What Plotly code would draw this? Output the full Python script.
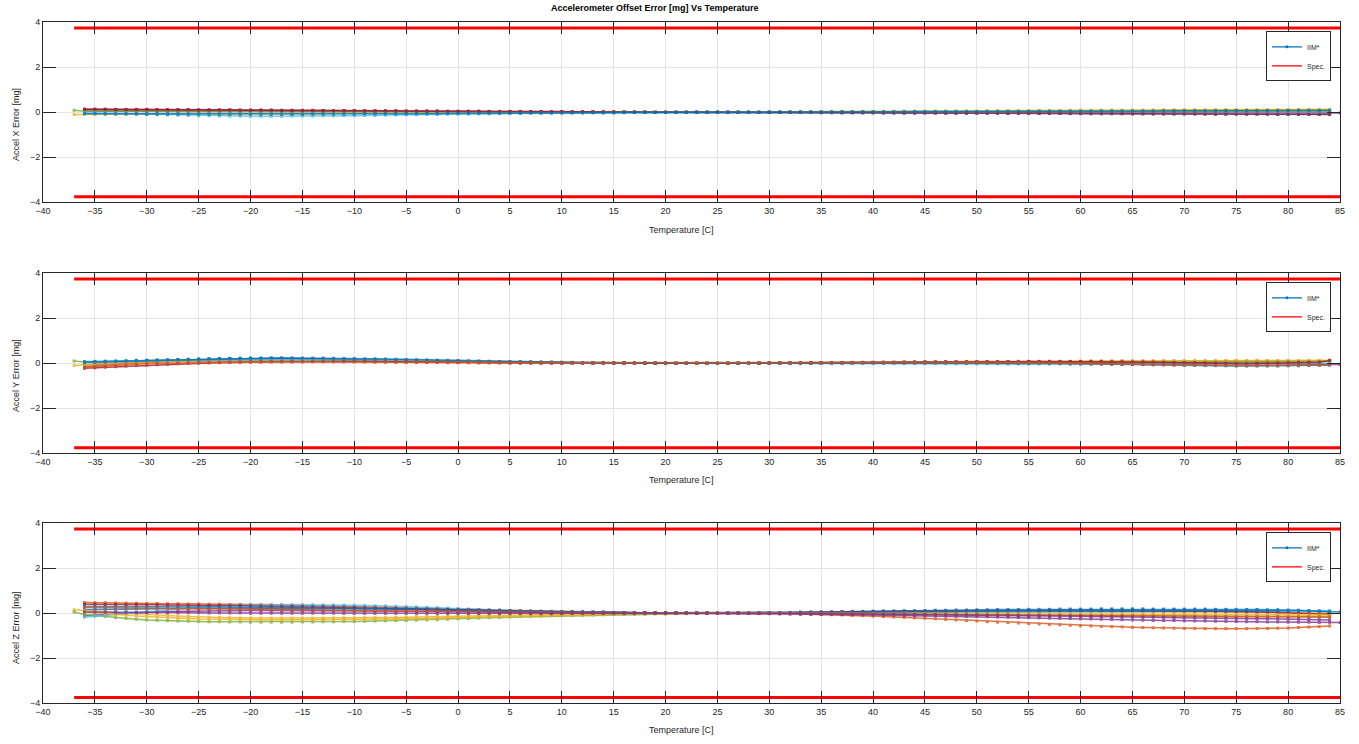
import plotly.graph_objects as go

# ---------------- data ----------------
TEMPS = [-36, -35, -34, -33, -32, -31, -30, -29, -28, -27,
         -26, -25, -24, -23, -22, -21, -20, -19, -18, -17,
         -16, -15, -14, -13, -12, -11, -10, -9, -8, -7,
         -6, -5, -4, -3, -2, -1, 0, 1, 2, 3,
         4, 5, 6, 7, 8, 9, 10, 11, 12, 13,
         14, 15, 16, 17, 18, 19, 20, 21, 22, 23,
         24, 25, 26, 27, 28, 29, 30, 31, 32, 33,
         34, 35, 36, 37, 38, 39, 40, 41, 42, 43,
         44, 45, 46, 47, 48, 49, 50, 51, 52, 53,
         54, 55, 56, 57, 58, 59, 60, 61, 62, 63,
         64, 65, 66, 67, 68, 69, 70, 71, 72, 73,
         74, 75, 76, 77, 78, 79, 80, 81, 82, 83,
         84]
TEMPS_FROM_M37 = [-37] + TEMPS
TEMPS_TO_85 = TEMPS + [85]

X_TICKS = [-40, -35, -30, -25, -20, -15, -10, -5, 0, 5, 10, 15, 20, 25,
           30, 35, 40, 45, 50, 55, 60, 65, 70, 75, 80, 85]
Y_TICKS = [-4, -2, 0, 2, 4]
SPEC_LIMIT = 3.75
SPEC_TEMPS = [-37, 85]

# ---- Accel X ----
X_A = [.05,.05,.05,.05,.05,.05,.04,.04,.04,.04, .04,.04,.04,.04,.04,.04,.04,.04,.03,.03,
       .03,.03,.03,.03,.03,.03,.03,.03,.03,.03, .02,.02,.02,.02,.02,.02,.02,.02,.02,.02,
       .02,.02,.01,.01,.01,.01,.01,.01,.01,.01, .01,.01,.01,.01,0,0,0,0,0,0,
       0,0,0,0,0,0,0,-.01,-.01,-.01, -.01,-.01,-.01,-.02,-.02,-.02,-.02,-.02,-.02,-.03,
       -.03,-.03,-.03,-.03,-.03,-.04,-.04,-.04,-.04,-.04, -.04,-.05,-.05,-.05,-.05,-.05,-.05,-.06,-.06,-.06,
       -.06,-.06,-.06,-.07,-.07,-.07,-.07,-.07,-.07,-.08, -.08,-.08,-.08,-.08,-.08,-.09,-.09,-.09,-.09,-.09,
       -.1]
X_B = [.10,.10,.10,.10,.09,.09,.09,.09,.09,.08, .08,.08,.08,.08,.07,.07,.07,.07,.07,.06,
       .06,.06,.06,.06,.05,.05,.05,.05,.05,.04, .04,.04,.04,.04,.03,.03,.03,.03,.03,.02,
       .02,.02,.02,.02,.01,.01,.01,.01,.01,.01, .01,.01,0,0,0,0,0,0,0,0,
       0,0,0,0,0,0,.01,.01,.01,.01, .01,.01,.01,.01,.02,.02,.02,.02,.02,.02,
       .02,.03,.03,.03,.03,.03,.03,.03,.04,.04, .04,.04,.04,.04,.04,.05,.05,.05,.05,.05,
       .05,.05,.05,.06,.06,.06,.06,.06,.06,.06, .06,.07,.07,.07,.07,.07,.07,.07,.07,.07,
       .07]
X_C = [-.10,
       -.09,-.09,-.09,-.09,-.09,-.09,-.09,-.08,-.08,-.08, -.08,-.08,-.08,-.08,-.07,-.07,-.07,-.07,-.07,-.06,
       -.06,-.06,-.06,-.06,-.05,-.05,-.05,-.05,-.05,-.04, -.04,-.04,-.04,-.04,-.03,-.03,-.03,-.03,-.03,-.02,
       -.02,-.02,-.02,-.02,-.02,-.01,-.01,-.01,-.01,-.01, -.01,-.01,-.01,0,0,0,0,0,0,0,
       0,0,0,.01,.01,.01,.01,.02,.02,.02, .02,.03,.03,.03,.03,.04,.04,.04,.04,.05,
       .05,.05,.05,.06,.06,.06,.06,.07,.07,.07, .07,.08,.08,.08,.08,.09,.09,.09,.09,.10,
       .10,.10,.10,.10,.11,.11,.11,.11,.11,.12, .12,.12,.12,.12,.12,.12,.13,.13,.13,.13,
       .13]
X_D = [.14,.14,.14,.13,.13,.13,.13,.12,.12,.12, .12,.11,.11,.11,.11,.10,.10,.10,.10,.09,
       .09,.09,.09,.08,.08,.08,.08,.07,.07,.07, .07,.06,.06,.06,.06,.05,.05,.05,.05,.04,
       .04,.04,.04,.03,.03,.03,.03,.02,.02,.02, .02,.01,.01,.01,.01,0,0,0,0,0,
       0,0,0,0,0,0,0,0,0,0, 0,0,0,0,0,0,-.01,-.01,-.01,-.01,
       -.01,-.01,-.01,-.01,-.01,-.01,-.01,-.01,-.01,-.01, -.01,-.01,-.01,-.01,-.02,-.02,-.02,-.02,-.02,-.02,
       -.02,-.02,-.02,-.02,-.02,-.02,-.02,-.02,-.02,-.02, -.02,-.02,-.02,-.02,-.02,-.02,-.02,-.02,-.02,-.02,
       -.02, -.03]
X_E = [.09,
       .05,.05,.05,.05,.05,.05,.05,.05,.05,.04, .04,.04,.04,.04,.04,.04,.04,.04,.04,.04,
       .03,.03,.03,.03,.03,.03,.03,.03,.03,.03, .02,.02,.02,.02,.02,.02,.02,.02,.02,.02,
       .01,.01,.01,.01,.01,.01,.01,.01,.01,.01, .01,.01,0,0,0,0,0,0,0,0,
       0,0,0,0,0,0,0,0,.01,.01, .01,.01,.01,.01,.01,.01,.01,.01,.02,.02,
       .02,.02,.02,.02,.02,.02,.02,.02,.03,.03, .03,.03,.03,.03,.03,.03,.03,.03,.04,.04,
       .04,.04,.04,.04,.04,.04,.04,.04,.04,.05, .05,.05,.05,.05,.05,.05,.05,.05,.05,.05,
       .05]
X_F = [-.02,-.03,-.05,-.06,-.07,-.08,-.10,-.11,-.12,-.13, -.14,-.16,-.16,-.17,-.17,-.18,-.18,-.18,-.18,-.18,
       -.17,-.17,-.17,-.16,-.16,-.15,-.15,-.14,-.14,-.13, -.12,-.11,-.11,-.10,-.10,-.09,-.08,-.08,-.07,-.07,
       -.06,-.05,-.05,-.04,-.04,-.04,-.03,-.03,-.03,-.02, -.02,-.02,-.02,-.01,-.01,-.01,-.01,-.01,0,0,
       0,0,0,0,0,0,0,0,-.01,-.01, -.01,-.01,-.01,-.01,-.01,-.02,-.02,-.02,-.02,-.02,
       -.02,-.02,-.03,-.03,-.03,-.03,-.03,-.03,-.03,-.03, -.04,-.04,-.04,-.04,-.04,-.04,-.04,-.04,-.04,-.05,
       -.05,-.05,-.05,-.05,-.05,-.05,-.05,-.06,-.06,-.06, -.06,-.06,-.06,-.06,-.06,-.07,-.07,-.07,-.07,-.07,
       -.07]
X_G = [.13,.13,.13,.12,.12,.12,.12,.11,.11,.11, .11,.10,.10,.10,.10,.09,.09,.09,.09,.08,
       .08,.08,.08,.07,.07,.07,.07,.06,.06,.06, .06,.05,.05,.05,.05,.04,.04,.04,.04,.03,
       .03,.03,.03,.03,.02,.02,.02,.02,.02,.01, .01,.01,.01,.01,.01,0,0,0,0,0,
       0,0,0,0,0,-.01,-.01,-.01,-.01,-.01, -.01,-.02,-.02,-.02,-.02,-.02,-.02,-.03,-.03,-.03,
       -.03,-.03,-.03,-.04,-.04,-.04,-.04,-.04,-.04,-.05, -.05,-.05,-.05,-.05,-.05,-.06,-.06,-.06,-.06,-.06,
       -.06,-.07,-.07,-.07,-.07,-.07,-.07,-.07,-.08,-.08, -.08,-.08,-.08,-.08,-.08,-.09,-.09,-.09,-.09,-.09,
       -.09]
X_H = [-.06,-.06,-.07,-.07,-.07,-.07,-.08,-.08,-.08,-.08, -.08,-.08,-.09,-.09,-.09,-.09,-.09,-.09,-.09,-.09,
       -.09,-.09,-.08,-.08,-.08,-.08,-.08,-.07,-.07,-.07, -.07,-.07,-.06,-.06,-.06,-.05,-.05,-.05,-.05,-.04,
       -.04,-.04,-.04,-.03,-.03,-.03,-.03,-.02,-.02,-.02, -.02,-.02,-.01,-.01,-.01,-.01,-.01,0,0,0,
       0,0,0,0,0,0,.01,.01,.01,.01, .01,.01,.01,.02,.02,.02,.02,.02,.02,.02,
       .03,.03,.03,.03,.03,.03,.03,.04,.04,.04, .04,.04,.05,.05,.05,.05,.05,.05,.06,.06,
       .06,.06,.06,.06,.07,.07,.07,.07,.07,.07, .08,.08,.08,.08,.08,.08,.08,.09,.09,.09,
       .09]

# ---- Accel Y ----
Y_A = [-.08,-.05,-.02,.01,.04,.07,.10,.12,.13,.15, .16,.18,.19,.20,.21,.22,.22,.22,.22,.22,
       .21,.21,.20,.20,.19,.17,.16,.15,.14,.13, .12,.11,.10,.09,.08,.07,.06,.05,.05,.04,
       .03,.03,.02,.02,.02,.01,.01,.01,.01,.01, 0,0,0,0,0,0,0,0,0,0,
       0,0,0,0,0,0,0,.01,.01,.01, .02,.02,.02,.03,.03,.03,.04,.04,.04,.04,
       .05,.05,.05,.05,.05,.06,.06,.06,.06,.06, .06,.06,.06,.06,.06,.06,.06,.06,.06,.06,
       .05,.05,.05,.05,.05,.05,.04,.04,.04,.03, .03,.03,.03,.02,.02,.02,.01,.01,0,-.01,
       -.02]
Y_B = [-.15,-.11,-.08,-.05,-.02,.01,.05,.06,.07,.08, .09,.10,.11,.11,.12,.13,.13,.13,.13,.13,
       .12,.12,.12,.11,.11,.10,.10,.09,.08,.07, .06,.05,.05,.04,.04,.03,.03,.03,.02,.02,
       .02,.01,.01,.01,.01,.01,0,0,0,0, 0,0,0,0,0,0,0,0,0,0,
       0,0,0,0,0,.01,.01,.01,.02,.02, .02,.03,.03,.03,.04,.04,.04,.05,.05,.06,
       .06,.07,.07,.07,.07,.08,.08,.08,.08,.08, .09,.09,.09,.09,.09,.09,.09,.10,.10,.10,
       .10,.10,.10,.10,.10,.10,.10,.10,.10,.10, .10,.10,.10,.10,.10,.10,.10,.10,.10,.10,
       .10]
Y_C = [-.10,
       -.05,-.03,-.01,.01,.03,.05,.06,.07,.08,.09, .10,.10,.11,.11,.12,.12,.12,.12,.12,.12,
       .12,.12,.12,.11,.11,.11,.10,.10,.10,.09, .09,.08,.08,.07,.07,.06,.05,.05,.05,.04,
       .04,.03,.03,.03,.03,.02,.02,.02,.02,.01, .01,.01,.01,.01,.01,0,0,0,0,0,
       0,0,0,0,0,0,0,0,0,0, .01,.01,.01,.01,.02,.02,.02,.03,.03,.03,
       .03,.04,.04,.04,.05,.05,.05,.06,.06,.06, .07,.07,.07,.08,.08,.08,.09,.09,.09,.09,
       .10,.10,.10,.10,.11,.11,.11,.11,.11,.11, .12,.12,.12,.12,.12,.12,.12,.12,.13,.13,
       .13]
Y_D = [.03,.05,.06,.08,.09,.11,.12,.13,.14,.15, .16,.17,.18,.18,.19,.19,.20,.20,.20,.20,
       .19,.19,.19,.18,.18,.17,.17,.16,.16,.15, .14,.13,.12,.12,.11,.10,.09,.08,.08,.07,
       .06,.06,.05,.05,.04,.04,.03,.03,.03,.02, .02,.02,.01,.01,.01,.01,.01,0,0,0,
       0,0,0,0,0,0,.01,.01,.01,.01, .02,.02,.02,.02,.02,.03,.03,.03,.03,.03,
       .04,.04,.04,.04,.04,.04,.04,.04,.04,.04, .03,.03,.03,.03,.03,.02,.02,.02,.02,.01,
       .01,.01,.01,0,0,0,0,-.01,-.01,-.01, -.01,-.02,-.02,-.02,-.02,-.03,-.03,-.03,-.03,-.04,
       -.05, -.05]
Y_E = [.10,
       .06,.07,.07,.08,.08,.09,.10,.11,.11,.12, .13,.13,.14,.14,.15,.15,.16,.16,.16,.16,
       .16,.16,.16,.16,.15,.15,.15,.14,.14,.14, .13,.13,.12,.12,.11,.11,.10,.09,.09,.08,
       .08,.07,.07,.06,.06,.05,.05,.04,.04,.03, .03,.03,.02,.02,.02,.01,.01,.01,.01,0,
       0,0,0,0,0,0,.01,.01,.01,.01, .01,.01,.02,.02,.02,.02,.02,.03,.03,.03,
       .03,.03,.03,.03,.03,.04,.04,.04,.04,.04, .04,.04,.04,.04,.04,.04,.04,.04,.04,.03,
       .03,.03,.03,.03,.03,.03,.04,.04,.04,.05, .05,.05,.06,.06,.06,.06,.07,.07,.07,.08,
       .08]
Y_F = [.08,.09,.09,.10,.10,.11,.12,.12,.13,.13, .14,.14,.15,.15,.15,.15,.16,.16,.16,.16,
       .15,.15,.15,.14,.14,.14,.13,.13,.12,.12, .11,.10,.10,.09,.08,.08,.07,.06,.06,.05,
       .04,.04,.03,.03,.02,.02,.01,.01,.01,.01, .01,0,0,0,0,0,0,0,0,0,
       0,0,0,0,0,0,0,0,0,0, 0,0,0,0,0,0,-.01,-.01,-.01,-.01,
       -.01,-.01,-.01,-.02,-.02,-.02,-.02,-.02,-.02,-.03, -.03,-.03,-.03,-.03,-.03,-.04,-.04,-.04,-.04,-.04,
       -.05,-.05,-.05,-.05,-.05,-.05,-.05,-.05,-.05,-.05, -.04,-.04,-.04,-.04,-.03,-.03,-.03,-.02,-.02,-.01,
       0]
Y_G = [-.22,-.20,-.17,-.15,-.12,-.10,-.08,-.06,-.04,-.02, 0,.01,.02,.03,.04,.05,.06,.06,.07,.07,
       .07,.07,.08,.08,.08,.08,.08,.08,.07,.07, .07,.07,.06,.06,.06,.05,.05,.05,.04,.04,
       .04,.03,.03,.03,.02,.02,.02,.02,.01,.01, .01,.01,.01,.01,0,0,0,0,0,0,
       0,0,0,.01,.01,.01,.01,.02,.02,.02, .02,.03,.03,.03,.03,.04,.04,.04,.04,.05,
       .05,.05,.05,.06,.06,.06,.06,.07,.07,.07, .07,.08,.08,.08,.08,.08,.08,.08,.08,.07,
       .07,.06,.06,.05,.04,.03,.02,.01,.01,0, -.01,-.02,-.02,-.01,0,.01,.02,.03,.04,.05,
       .13]
Y_H = [.06,.07,.09,.10,.11,.13,.14,.15,.16,.17, .18,.19,.20,.21,.22,.22,.23,.23,.24,.24,
       .24,.23,.23,.23,.22,.22,.21,.20,.20,.19, .18,.17,.16,.15,.14,.13,.12,.11,.10,.09,
       .08,.07,.07,.06,.05,.05,.04,.04,.03,.03, .02,.02,.02,.01,.01,.01,.01,0,0,0,
       0,0,0,0,.01,.01,.01,.01,.01,.01, .01,.02,.02,.02,.02,.02,.02,.02,.02,.02,
       .02,.02,.02,.02,.02,.01,.01,.01,.01,.01, 0,0,0,-.01,-.01,-.02,-.02,-.03,-.03,-.04,
       -.05,-.05,-.06,-.07,-.07,-.08,-.09,-.09,-.10,-.10, -.11,-.12,-.12,-.12,-.12,-.12,-.11,-.11,-.10,-.09,
       -.08]
Y_I = [-.18,-.15,-.12,-.10,-.07,-.04,-.02,-.01,0,.01, .02,.03,.04,.05,.05,.06,.06,.07,.07,.07,
       .07,.07,.07,.07,.07,.07,.06,.06,.06,.06, .06,.05,.05,.05,.04,.04,.04,.03,.03,.03,
       .03,.02,.02,.02,.02,.01,.01,.01,.01,.01, .01,.01,.01,0,0,0,0,0,0,0,
       0,0,0,0,.01,.01,.01,.01,.01,.02, .02,.02,.02,.02,.02,.03,.03,.03,.03,.03,
       .03,.03,.03,.04,.04,.04,.04,.04,.04,.04, .04,.03,.03,.02,.01,0,-.01,-.01,-.02,-.03,
       -.03,-.04,-.05,-.05,-.06,-.07,-.07,-.08,-.08,-.09, -.09,-.10,-.10,-.10,-.09,-.09,-.08,-.08,-.07,-.07,
       -.06]

# ---- Accel Z ----
Z_A = [.15,.16,.17,.17,.18,.19,.20,.20,.20,.21, .21,.21,.21,.22,.22,.22,.22,.22,.22,.22,
       .22,.22,.21,.21,.21,.20,.20,.19,.19,.18, .18,.17,.16,.15,.14,.13,.12,.11,.10,.09,
       .09,.08,.07,.07,.06,.06,.05,.05,.04,.04, .04,.03,.03,.02,.02,.02,.01,.01,.01,.01,
       0,0,0,.01,.01,.01,.02,.02,.03,.04, .05,.05,.06,.07,.08,.08,.09,.10,.10,.11,
       .11,.12,.13,.13,.14,.14,.15,.15,.16,.16, .16,.17,.17,.17,.18,.18,.18,.18,.19,.19,
       .19,.19,.19,.18,.18,.18,.18,.18,.18,.17, .17,.17,.16,.16,.15,.15,.14,.13,.11,.09,
       .06]
Z_B = [.47,.46,.46,.45,.45,.44,.43,.43,.42,.42, .41,.41,.40,.40,.39,.39,.38,.38,.37,.37,
       .36,.35,.35,.34,.33,.32,.31,.30,.29,.28, .27,.26,.24,.23,.22,.20,.18,.17,.16,.14,
       .13,.12,.10,.09,.08,.07,.07,.06,.05,.04, .03,.03,.02,.02,.01,.01,.01,.01,0,0,
       0,0,0,-.01,-.01,-.01,-.02,-.02,-.03,-.04, -.05,-.06,-.07,-.08,-.09,-.11,-.13,-.15,-.17,-.19,
       -.21,-.23,-.25,-.28,-.30,-.33,-.35,-.38,-.40,-.42, -.44,-.46,-.48,-.50,-.52,-.54,-.56,-.57,-.59,-.60,
       -.61,-.63,-.64,-.65,-.66,-.67,-.68,-.68,-.69,-.69, -.69,-.69,-.69,-.68,-.68,-.67,-.66,-.64,-.62,-.60,
       -.57]
Z_C = [.15,
       .10,.07,.05,.02,0,-.03,-.05,-.08,-.10,-.13, -.15,-.17,-.18,-.19,-.20,-.21,-.22,-.22,-.22,-.22,
       -.22,-.22,-.22,-.22,-.21,-.21,-.21,-.20,-.20,-.20, -.19,-.18,-.17,-.16,-.15,-.14,-.12,-.11,-.10,-.09,
       -.08,-.08,-.07,-.06,-.06,-.05,-.04,-.04,-.03,-.03, -.03,-.02,-.02,-.02,-.02,-.01,-.01,-.01,-.01,0,
       0,0,0,0,.01,.01,.01,.01,.01,.01, .02,.02,.02,.02,.02,.03,.03,.03,.03,.03,
       .04,.04,.04,.04,.04,.05,.05,.05,.05,.05, .05,.06,.06,.06,.06,.06,.06,.06,.07,.07,
       .07,.07,.07,.07,.07,.07,.06,.06,.06,.06, .05,.05,.05,.04,.04,.03,.03,.02,.02,.01,
       0]
Z_D = [-.12,-.09,-.06,-.03,0,.03,.05,.06,.07,.08, .09,.10,.10,.11,.11,.12,.12,.12,.12,.12,
       .12,.12,.12,.12,.12,.12,.12,.11,.11,.11, .10,.10,.09,.09,.08,.08,.07,.07,.06,.06,
       .05,.05,.05,.04,.04,.04,.03,.03,.03,.03, .02,.02,.02,.02,.01,.01,.01,.01,.01,0,
       0,0,-.01,-.01,-.01,-.02,-.02,-.03,-.03,-.04, -.04,-.05,-.05,-.06,-.07,-.07,-.08,-.09,-.09,-.10,
       -.11,-.11,-.12,-.13,-.13,-.14,-.15,-.16,-.17,-.18, -.19,-.20,-.21,-.22,-.23,-.24,-.25,-.26,-.27,-.28,
       -.29,-.30,-.31,-.32,-.33,-.33,-.34,-.35,-.35,-.36, -.37,-.37,-.38,-.38,-.39,-.39,-.40,-.40,-.40,-.41,
       -.41, -.42]
Z_E = [.05,
       -.06,-.10,-.15,-.20,-.23,-.27,-.30,-.32,-.33,-.35, -.36,-.37,-.38,-.38,-.39,-.39,-.40,-.40,-.40,-.40,
       -.40,-.39,-.39,-.38,-.38,-.37,-.37,-.36,-.35,-.34, -.33,-.32,-.31,-.30,-.29,-.27,-.25,-.24,-.22,-.20,
       -.19,-.17,-.15,-.14,-.13,-.12,-.11,-.10,-.09,-.08, -.07,-.06,-.05,-.04,-.04,-.03,-.03,-.02,-.02,-.01,
       0,0,0,0,-.01,-.01,-.01,-.01,-.01,-.02, -.02,-.02,-.02,-.02,-.02,-.03,-.03,-.03,-.03,-.03,
       -.04,-.04,-.04,-.05,-.05,-.05,-.06,-.06,-.06,-.07, -.07,-.07,-.08,-.08,-.08,-.09,-.09,-.09,-.10,-.10,
       -.10,-.11,-.11,-.11,-.12,-.12,-.12,-.13,-.13,-.13, -.13,-.14,-.14,-.14,-.14,-.14,-.15,-.15,-.15,-.15,
       -.15]
Z_F = [-.18,-.14,-.09,-.05,-.01,.03,.08,.12,.16,.20, .24,.28,.32,.34,.35,.36,.37,.37,.37,.37,
       .37,.37,.37,.37,.36,.36,.35,.34,.33,.32, .30,.29,.27,.25,.24,.22,.20,.18,.16,.15,
       .14,.12,.11,.10,.09,.08,.07,.06,.05,.05, .04,.04,.03,.03,.02,.02,.01,.01,.01,.01,
       0,0,0,0,0,0,0,0,.01,.01, .01,.01,.01,.02,.02,.02,.02,.02,.03,.03,
       .03,.03,.04,.04,.04,.04,.04,.05,.05,.05, .05,.05,.06,.06,.06,.06,.06,.06,.07,.07,
       .07,.07,.07,.08,.08,.08,.08,.08,.08,.08, .09,.09,.09,.09,.09,.10,.10,.10,.10,.11,
       .12]
Z_G = [.40,.40,.39,.39,.38,.38,.37,.37,.36,.36, .35,.35,.34,.34,.33,.33,.32,.31,.31,.30,
       .30,.29,.28,.28,.27,.26,.25,.24,.23,.22, .21,.20,.19,.18,.17,.16,.15,.14,.13,.12,
       .11,.10,.09,.08,.07,.07,.06,.05,.05,.04, .04,.03,.03,.02,.02,.02,.01,.01,.01,0,
       0,0,0,.01,.01,.02,.02,.03,.03,.04, .04,.05,.05,.06,.06,.06,.07,.07,.07,.08,
       .08,.08,.09,.09,.09,.10,.10,.10,.10,.11, .11,.11,.11,.12,.12,.12,.12,.12,.12,.12,
       .12,.12,.12,.11,.11,.11,.10,.10,.09,.08, .08,.07,.06,.05,.04,.03,.02,0,-.01,-.03,
       -.05]
Z_H = [.30,.30,.30,.29,.29,.29,.28,.28,.28,.28, .27,.27,.27,.27,.26,.26,.26,.25,.25,.25,
       .25,.24,.24,.23,.23,.22,.22,.21,.21,.20, .19,.18,.17,.16,.15,.14,.13,.12,.11,.10,
       .10,.09,.08,.08,.07,.06,.06,.05,.05,.04, .04,.03,.03,.03,.02,.02,.02,.01,.01,.01,
       0,0,0,0,0,.01,.01,.01,.01,.02, .02,.02,.03,.03,.03,.04,.04,.04,.05,.05,
       .05,.06,.06,.07,.07,.08,.08,.09,.09,.10, .10,.11,.11,.12,.12,.13,.13,.13,.14,.14,
       .14,.14,.14,.14,.14,.14,.14,.14,.14,.14, .14,.13,.13,.13,.12,.12,.11,.11,.10,.09,
       .06, .05]
Z_I = [.05,.01,-.03,-.07,-.10,-.13,-.15,-.18,-.20,-.22, -.24,-.26,-.27,-.28,-.28,-.29,-.29,-.29,-.29,-.29,
       -.29,-.29,-.29,-.29,-.28,-.28,-.28,-.27,-.27,-.26, -.25,-.24,-.23,-.22,-.21,-.20,-.18,-.17,-.16,-.15,
       -.14,-.13,-.12,-.11,-.10,-.09,-.08,-.07,-.07,-.06, -.05,-.05,-.04,-.03,-.03,-.02,-.02,-.01,-.01,0,
       0,0,0,0,0,0,0,0,-.01,-.01, -.01,-.01,-.01,-.01,-.01,-.02,-.02,-.02,-.02,-.02,
       -.02,-.02,-.02,-.03,-.03,-.03,-.03,-.03,-.03,-.03, -.04,-.04,-.04,-.04,-.04,-.04,-.05,-.05,-.05,-.05,
       -.05,-.05,-.05,-.06,-.06,-.06,-.06,-.06,-.06,-.06, -.07,-.07,-.07,-.07,-.07,-.07,-.07,-.08,-.08,-.08,
       -.08]
Z_J = [.25,.25,.24,.24,.23,.23,.22,.22,.21,.21, .20,.20,.19,.19,.18,.18,.17,.17,.16,.16,
       .15,.15,.14,.14,.13,.13,.12,.12,.11,.11, .10,.09,.09,.08,.08,.07,.07,.06,.06,.05,
       .05,.04,.04,.04,.03,.03,.03,.02,.02,.02, .02,.01,.01,.01,.01,.01,0,0,0,0,
       0,0,0,0,-.01,-.01,-.01,-.01,-.02,-.02, -.02,-.03,-.03,-.03,-.03,-.04,-.04,-.04,-.05,-.05,
       -.05,-.06,-.06,-.06,-.07,-.07,-.07,-.08,-.08,-.08, -.09,-.09,-.09,-.10,-.10,-.10,-.11,-.11,-.11,-.12,
       -.12,-.12,-.13,-.13,-.13,-.14,-.14,-.14,-.15,-.15, -.15,-.15,-.16,-.16,-.16,-.16,-.17,-.17,-.17,-.17,
       -.18]
Z_K = [.05,.05,.04,.04,.04,.03,.03,.03,.02,.02, .02,.02,.01,.01,.01,.01,0,0,0,0,
       0,0,0,0,0,-.01,-.01,-.01,-.01,-.01, -.01,-.01,-.02,-.02,-.02,-.02,-.02,-.02,-.02,-.02,
       -.02,-.02,-.02,-.02,-.02,-.02,-.02,-.01,-.01,-.01, -.01,-.01,-.01,-.01,-.01,-.01,0,0,0,0,
       0,0,0,0,-.01,-.01,-.01,-.02,-.02,-.02, -.03,-.03,-.03,-.04,-.04,-.04,-.05,-.05,-.05,-.06,
       -.06,-.07,-.07,-.08,-.08,-.09,-.09,-.10,-.10,-.11, -.11,-.12,-.12,-.13,-.13,-.14,-.14,-.15,-.15,-.16,
       -.16,-.17,-.18,-.18,-.19,-.20,-.20,-.21,-.22,-.22, -.23,-.24,-.24,-.25,-.25,-.26,-.27,-.27,-.28,-.29,
       -.30]

BLUE, ORANGE, YELLOW, PURPLE, GREEN, CYAN, DARKRED = (
    '#0072BD', '#D95319', '#EDB120', '#7E2F8E', '#77AC30', '#4DBEEE', '#A2142F')
SPEC_COLOR = '#FF0000'

X_SERIES = [(TEMPS, X_A, BLUE), (TEMPS, X_B, ORANGE), (TEMPS_FROM_M37, X_C, YELLOW),
            (TEMPS_TO_85, X_D, PURPLE), (TEMPS_FROM_M37, X_E, GREEN), (TEMPS, X_F, CYAN),
            (TEMPS, X_G, DARKRED), (TEMPS, X_H, BLUE)]
Y_SERIES = [(TEMPS, Y_A, BLUE), (TEMPS, Y_B, ORANGE), (TEMPS_FROM_M37, Y_C, YELLOW),
            (TEMPS_TO_85, Y_D, PURPLE), (TEMPS_FROM_M37, Y_E, GREEN), (TEMPS, Y_F, CYAN),
            (TEMPS, Y_G, DARKRED), (TEMPS, Y_H, BLUE), (TEMPS, Y_I, ORANGE)]
Z_SERIES = [(TEMPS, Z_A, BLUE), (TEMPS, Z_B, ORANGE), (TEMPS_FROM_M37, Z_C, YELLOW),
            (TEMPS_TO_85, Z_D, PURPLE), (TEMPS_FROM_M37, Z_E, GREEN), (TEMPS, Z_F, CYAN),
            (TEMPS, Z_G, DARKRED), (TEMPS_TO_85, Z_H, BLUE), (TEMPS, Z_I, YELLOW),
            (TEMPS, Z_J, ORANGE), (TEMPS, Z_K, PURPLE)]

Y_TITLES = ['Accel X Error [mg]', 'Accel Y Error [mg]', 'Accel Z Error [mg]']
X_TITLE = 'Temperature [C]'
MAIN_TITLE = 'Accelerometer Offset Error [mg] Vs Temperature'

# ---------------- figure ----------------
FONT = 'Liberation Sans, Arial, Helvetica, sans-serif'
AX_COLOR = '#262626'
W, H = 1359, 744
ML, MR, MT, MB = 43, 19, 22, 41
PW, PH = W - ML - MR, H - MT - MB


def py(px):  # pixel y -> paper y
    return 1 - (px - MT) / PH


def pxx(px):  # pixel x -> paper x
    return (px - ML) / PW


fig = go.Figure()
panels = [X_SERIES, Y_SERIES, Z_SERIES]
legend_ids = ['legend', 'legend2', 'legend3']
axis_tops = [22.3, 273.3, 523.3]

for i, series in enumerate(panels):
    xa = 'x' if i == 0 else f'x{i+1}'
    ya = 'y' if i == 0 else f'y{i+1}'
    for j, (tx, vals, col) in enumerate(series):
        fig.add_trace(go.Scatter(
            x=tx, y=vals, mode='lines+markers', xaxis=xa, yaxis=ya,
            line=dict(color=col, width=1.5), marker=dict(color=col, size=3, symbol='square'),
            opacity=0.8, name='IIM*', showlegend=False, legend=legend_ids[i]))
    # spec limits
    for sgn in (1, -1):
        fig.add_trace(go.Scatter(
            x=SPEC_TEMPS, y=[sgn * SPEC_LIMIT] * len(SPEC_TEMPS), mode='lines',
            xaxis=xa, yaxis=ya, line=dict(color=SPEC_COLOR, width=3),
            showlegend=False, legend=legend_ids[i], name='Spec.'))
    # legend entries
    fig.add_trace(go.Scatter(x=[None], y=[None], mode='lines+markers', xaxis=xa, yaxis=ya,
                             line=dict(color=BLUE, width=1.2), marker=dict(color=BLUE, size=3),
                             name='IIM*', showlegend=True, legend=legend_ids[i]))
    fig.add_trace(go.Scatter(x=[None], y=[None], mode='lines', xaxis=xa, yaxis=ya,
                             line=dict(color=SPEC_COLOR, width=1.2),
                             name='Spec.', showlegend=True, legend=legend_ids[i]))

axis_common = dict(showline=True, linecolor=AX_COLOR, linewidth=1, mirror='ticks',
                   ticks='inside', tickcolor=AX_COLOR, tickwidth=1,
                   showgrid=True, gridcolor='#e4e4e4', gridwidth=1, zeroline=False,
                   tickfont=dict(family=FONT, size=9, color=AX_COLOR))

layout = dict(width=W, height=H, margin=dict(l=ML, r=MR, t=MT, b=MB),
              paper_bgcolor='white', plot_bgcolor='white', showlegend=True,
              font=dict(family=FONT, size=9, color=AX_COLOR))

annotations = [dict(text='<b>' + MAIN_TITLE + '</b>', xref='paper', yref='paper',
                    x=pxx(654), y=py(8), showarrow=False,
                    font=dict(family=FONT, size=9, color='#000000'),
                    xanchor='center', yanchor='middle')]

ytitle_centers = [125, 376, 628]
xtitle_centers = [230, 480, 730]
for i in range(3):
    top = axis_tops[i]
    bot = top + 180
    dom = [py(bot), py(top)]
    xk = 'xaxis' if i == 0 else f'xaxis{i+1}'
    yk = 'yaxis' if i == 0 else f'yaxis{i+1}'
    yanchor_name = 'y' if i == 0 else f'y{i+1}'
    xanchor_name = 'x' if i == 0 else f'x{i+1}'
    layout[xk] = dict(axis_common, range=[-40, 85], tickmode='array', tickvals=X_TICKS,
                      ticklen=12, anchor=yanchor_name, domain=[0, 1])
    layout[yk] = dict(axis_common, range=[-4, 4], tickmode='array', tickvals=Y_TICKS,
                      ticklen=13, anchor=xanchor_name, domain=[max(0, dom[0]), min(1, dom[1])])
    layout[legend_ids[i]] = dict(x=pxx(1331), y=py(top + 9), xanchor='right', yanchor='top',
                                 bgcolor='white', bordercolor=AX_COLOR, borderwidth=1,
                                 font=dict(family=FONT, size=7, color=AX_COLOR),
                                 tracegroupgap=0, itemwidth=30)
    annotations.append(dict(text=Y_TITLES[i], xref='paper', yref='paper',
                            x=pxx(16), y=py(ytitle_centers[i]), textangle=-90,
                            showarrow=False, xanchor='center', yanchor='middle',
                            font=dict(family=FONT, size=9, color=AX_COLOR)))
    annotations.append(dict(text=X_TITLE, xref='paper', yref='paper',
                            x=pxx(681), y=py(xtitle_centers[i]), showarrow=False,
                            xanchor='center', yanchor='middle',
                            font=dict(family=FONT, size=9, color=AX_COLOR)))

layout['annotations'] = annotations
fig.update_layout(**layout)

fig.write_html("out.html", include_plotlyjs=True, config={'displayModeBar': False},
               post_script="document.body.style.margin='0';document.body.style.overflow='hidden';")
